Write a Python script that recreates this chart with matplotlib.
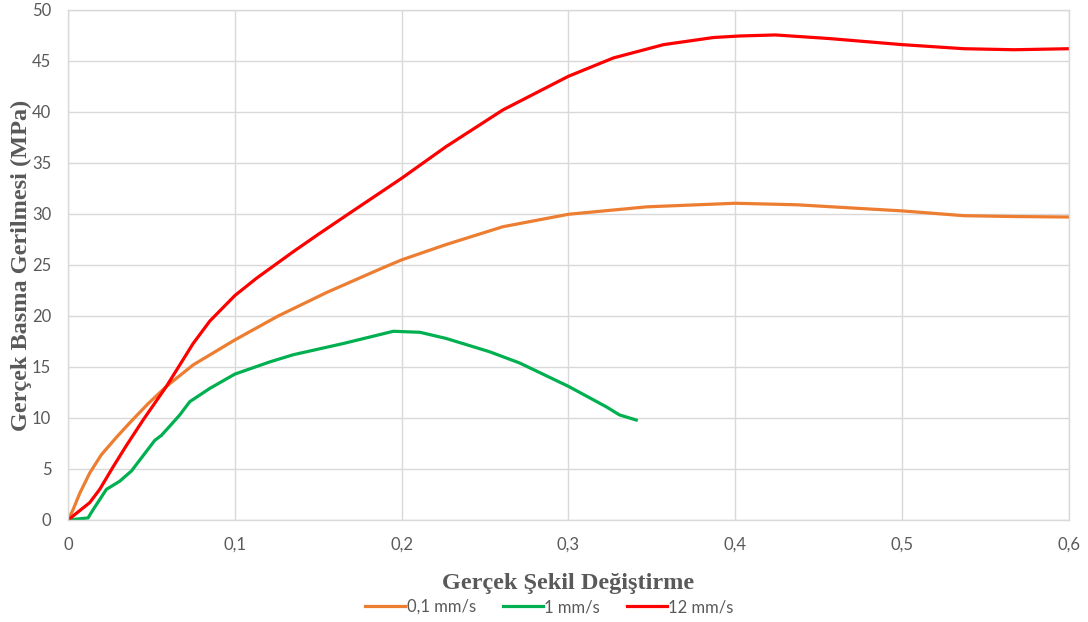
import matplotlib
matplotlib.use("Agg")
import matplotlib.pyplot as plt
from matplotlib.ticker import FuncFormatter, MultipleLocator

# True strain / true stress readings for three loading rates
strain_01 = [0, 0.003, 0.007, 0.013, 0.02, 0.029, 0.038, 0.048, 0.059, 0.075,
             0.1, 0.126, 0.155, 0.187, 0.2, 0.2266, 0.2607, 0.3, 0.347,
             0.4, 0.437, 0.5, 0.537, 0.567, 0.6]
stress_01 = [0, 1.0, 2.6, 4.6, 6.4, 8.1, 9.7, 11.4, 13.1, 15.2,
             17.65, 20.0, 22.3, 24.6, 25.5, 27.0, 28.75, 29.97, 30.7,
             31.05, 30.9, 30.3, 29.83, 29.75, 29.7]

strain_1 = [0, 0.012, 0.015, 0.023, 0.031, 0.038, 0.045, 0.052, 0.056, 0.061,
            0.067, 0.073, 0.085, 0.1, 0.121, 0.135, 0.165, 0.195, 0.211, 0.2266,
            0.2526, 0.2706, 0.3, 0.3226, 0.3306, 0.3406]
stress_1 = [0, 0.2, 1.0, 3.0, 3.8, 4.8, 6.3, 7.8, 8.3, 9.2,
            10.3, 11.6, 12.9, 14.3, 15.5, 16.2, 17.3, 18.5, 18.4, 17.8,
            16.5, 15.4, 13.1, 11.1, 10.3, 9.8]

strain_12 = [0, 0.013, 0.019, 0.027, 0.035, 0.045, 0.059, 0.067, 0.075, 0.085,
             0.1, 0.113, 0.135, 0.15, 0.169, 0.2, 0.2266, 0.2607, 0.3, 0.327,
             0.357, 0.387, 0.403, 0.424, 0.456, 0.5, 0.537, 0.567, 0.6]
stress_12 = [0, 1.7, 3.0, 5.2, 7.3, 9.8, 13.1, 15.2, 17.3, 19.5,
             22.0, 23.7, 26.3, 28.0, 30.1, 33.5, 36.6, 40.2, 43.5, 45.3,
             46.6, 47.3, 47.45, 47.55, 47.2, 46.6, 46.2, 46.1, 46.2]

series_labels = ["0,1 mm/s", "1 mm/s", "12 mm/s"]

text_gray = "#595959"
grid_gray = "#d9d9d9"

fig = plt.figure(figsize=(10.88, 6.22), dpi=100)
ax = fig.add_axes([0.0625, 0.164, 0.92, 0.82])

ax.plot(strain_01, stress_01, color="#ED7D31", lw=2.3, label=series_labels[0])
ax.plot(strain_1, stress_1, color="#00B050", lw=2.3, label=series_labels[1])
ax.plot(strain_12, stress_12, color="#FF0000", lw=2.3, label=series_labels[2])

ax.set_xlim(0, 0.6)
ax.set_ylim(0, 50)
ax.xaxis.set_major_locator(MultipleLocator(0.1))
ax.yaxis.set_major_locator(MultipleLocator(5))

# decimal comma on the strain axis
def comma_fmt(v, pos):
    if abs(v) < 1e-9:
        return "0"
    return f"{v:.1f}".replace(".", ",")

ax.xaxis.set_major_formatter(FuncFormatter(comma_fmt))
ax.yaxis.set_major_formatter(FuncFormatter(lambda v, p: f"{v:.0f}"))

ax.grid(True, color=grid_gray, lw=1.0)
ax.set_axisbelow(True)
for s in ax.spines.values():
    s.set_color(grid_gray)
    s.set_linewidth(1.0)

ax.tick_params(axis="x", length=0, colors=text_gray, labelsize=12, pad=12)
ax.tick_params(axis="y", length=0, colors=text_gray, labelsize=12, pad=12)
for lab in ax.get_xticklabels() + ax.get_yticklabels():
    lab.set_family("Lato")

label_font = dict(family="Liberation Serif", weight="bold", size=17.5, color=text_gray)
ax.set_xlabel("Gerçek Şekil Değiştirme", **label_font)
ax.set_ylabel("Gerçek Basma Gerilmesi (MPa)", **label_font)
ax.xaxis.set_label_coords(0.5, -0.104)
ax.yaxis.set_label_coords(-0.036, 0.5)

leg = fig.legend(loc="center", bbox_to_anchor=(0.505, 0.024), ncol=3, frameon=False,
                 prop={"family": "Lato", "size": 12}, handlelength=2.4,
                 handletextpad=0.1, columnspacing=1.6)
for t in leg.get_texts():
    t.set_color(text_gray)

fig.savefig("out.png", dpi=100)
